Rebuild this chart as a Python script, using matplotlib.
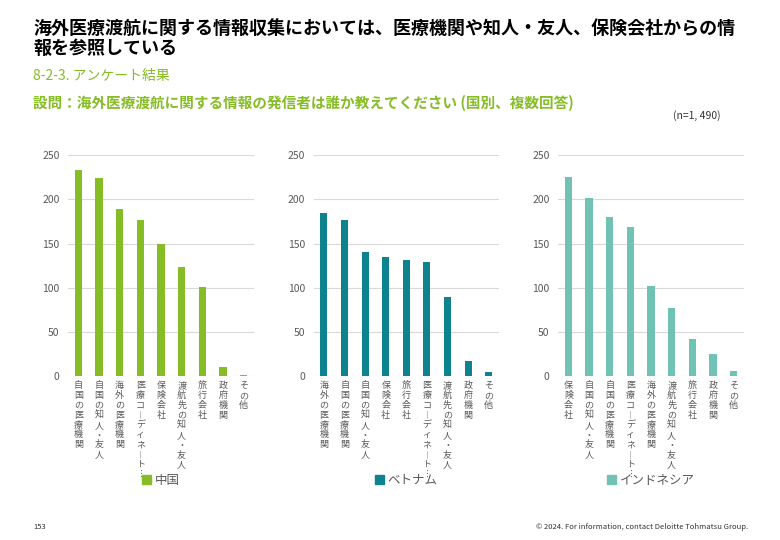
import matplotlib
matplotlib.use("Agg")
import matplotlib.pyplot as plt
from matplotlib.patches import Patch

plt.rcParams['font.family'] = ['Noto Sans CJK JP', 'DejaVu Sans']

# 国別の回答数
cn_labels = ["自国の医療機関", "自国の知人・友人", "海外の医療機関", "医療コーディネート…",
             "保険会社", "渡航先の知人・友人", "旅行会社", "政府機関", "その他"]
cn_values = [233, 224, 189, 177, 150, 124, 101, 11, 2]

vn_labels = ["海外の医療機関", "自国の医療機関", "自国の知人・友人", "保険会社",
             "旅行会社", "医療コーディネート…", "渡航先の知人・友人", "政府機関", "その他"]
vn_values = [185, 177, 140, 135, 131, 129, 90, 17, 5]

id_labels = ["保険会社", "自国の知人・友人", "自国の医療機関", "医療コーディネート…",
             "海外の医療機関", "渡航先の知人・友人", "旅行会社", "政府機関", "その他"]
id_values = [225, 201, 180, 169, 102, 77, 42, 25, 6]

countries = ["中国", "ベトナム", "インドネシア"]
colors = ["#86bc25", "#0d8390", "#6fc2b4"]

W, H = 780, 540
fig = plt.figure(figsize=(W / 100, H / 100), dpi=100)


def px_axes(left, right, top, bottom):
    return fig.add_axes([left / W, 1 - bottom / H, (right - left) / W, (bottom - top) / H])


# 縦書きラベル
def vertical(s):
    s = s.replace("ー", "︱").replace("…", "︙")
    return "\n".join(s)


gray = "#595959"
panels = [(68, 254), (313.7, 499), (558, 744)]
data = [(cn_labels, cn_values), (vn_labels, vn_values), (id_labels, id_values)]

for (l, r), (labels, vals), name, c in zip(panels, data, countries, colors):
    ax = px_axes(l, r, 155, 376.3)
    x = range(len(vals))
    ax.bar(x, vals, width=0.34, color=c, zorder=3)
    ax.set_xlim(-0.5, len(vals) - 0.5)
    ax.set_ylim(0, 250)
    ax.set_yticks([0, 50, 100, 150, 200, 250])
    ax.grid(axis='y', color='#d9d9d9', linewidth=0.8, zorder=0)
    for sp in ax.spines.values():
        sp.set_visible(False)
    ax.tick_params(length=0, colors=gray, labelsize=7.5)
    ax.tick_params(axis='y', pad=6)
    ax.set_xticks(list(x))
    ax.set_xticklabels([vertical(t) for t in labels], fontsize=6.5,
                       linespacing=1.12, va='top', color=gray)
    ax.legend(handles=[Patch(color=c, label=name)], loc='center',
              bbox_to_anchor=(0.5, -0.469), frameon=False, fontsize=9,
              handlelength=0.7, handleheight=0.7, handletextpad=0.3,
              labelcolor=gray)

fig.text(33 / W, 1 - 28 / H, "海外医療渡航に関する情報収集においては、医療機関や知人・友人、保険会社からの情",
         fontsize=13, fontweight='bold', va='center', color='black')
fig.text(33 / W, 1 - 48 / H, "報を参照している",
         fontsize=13, fontweight='bold', va='center', color='black')
fig.text(33 / W, 1 - 76 / H, "8-2-3. アンケート結果", fontsize=10, va='center', color="#86bc25")
fig.text(33 / W, 1 - 103 / H, "設問：海外医療渡航に関する情報の発信者は誰か教えてください (国別、複数回答)",
         fontsize=10.5, fontweight='bold', va='center', color="#86bc25")
fig.text(721 / W, 1 - 116 / H, "(n=1, 490)", fontsize=7.5, ha='right', va='center', color='#333333')

fig.text(33 / W, 1 - 527 / H, "153", fontsize=5.5, va='center', color='#333333')
fig.text(748 / W, 1 - 527 / H, "© 2024. For information, contact Deloitte Tohmatsu Group.",
         fontsize=5.5, ha='right', va='center', color='#333333')

fig.savefig("out.png", dpi=100)
